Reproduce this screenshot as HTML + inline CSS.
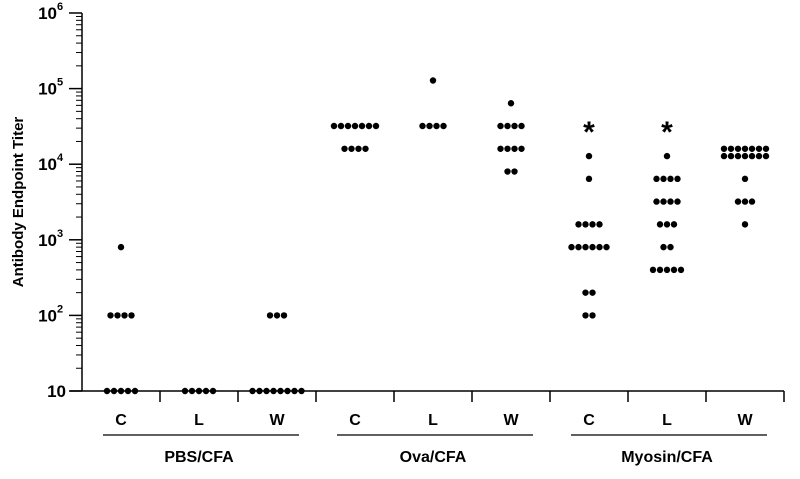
<!DOCTYPE html>
<html><head><meta charset="utf-8"><style>
body{margin:0;background:#fff}
svg text{font-family:"Liberation Sans",Arial,sans-serif;font-weight:bold;fill:#000}
</style></head><body>
<svg width="800" height="474" xmlns="http://www.w3.org/2000/svg">
<g id="axes"></g><g id="marks"></g>
</svg>
<script>
const categories=["C","L","W","C","L","W","C","L","W"];
const groups=["PBS/CFA","Ova/CFA","Myosin/CFA"];
const yTicks=[1,2,3,4,5,6];
const significant=[false,false,false,false,false,false,true,true,false];
// each category: list of [value,count]
const seriesPBS=[[[800,1],[100,4],[10,5]],[[10,5]],[[100,3],[10,8]]];
const seriesOva=[[[32000,7],[16000,4]],[[128000,1],[32000,4]],[[64000,1],[32000,4],[16000,4],[8000,2]]];
const seriesMyo=[[[12800,1],[6400,1],[1600,4],[800,6],[200,2],[100,2]],[[12800,1],[6400,4],[3200,4],[1600,3],[800,2],[400,5]],[[16000,7],[12800,7],[6400,1],[3200,3],[1600,1]]];
const allSeries=seriesPBS.concat(seriesOva,seriesMyo);
const NS="http://www.w3.org/2000/svg";
const x0=82,catW=78,yTop=13,yBot=391;
const yS=v=>yBot-(Math.log10(v)-1)*(yBot-yTop)/5;
const xS=i=>x0+catW*(i+0.5);
function mk(t,a,p,txt){const e=document.createElementNS(NS,t);for(const k in a)e.setAttribute(k,a[k]);if(txt!==undefined)e.textContent=txt;p.appendChild(e);return e;}
const ax=document.getElementById('axes'),mg=document.getElementById('marks');
let e=mk('line',{x1:x0,y1:yTop,x2:x0,y2:yBot,stroke:'#000','stroke-width':1.5},ax);

e=mk('line',{x1:70,y1:yBot,x2:x0+catW*9,y2:yBot,stroke:'#000','stroke-width':1.5},ax);

for(let d=1;d<=6;d++){const y=yS(Math.pow(10,d));mk('line',{x1:69,y1:y,x2:x0,y2:y,stroke:'#000','stroke-width':1.5},ax);
 if(d<6)for(let m=2;m<=9;m++){const yy=yS(m*Math.pow(10,d));mk('line',{x1:76,y1:yy,x2:x0,y2:yy,stroke:'#000','stroke-width':1},ax);}}
yTicks.forEach(d=>{const y=yS(Math.pow(10,d));const t=mk('text',{x:d==1?66:57,y:y+6,'text-anchor':'end','font-size':17},ax,"10");
 
 if(d>1){const s=mk('text',{x:57,y:y-3,'font-size':11},ax,String(d));}});
e=mk('text',{x:23,y:202,'text-anchor':'middle','font-size':15,transform:'rotate(-90 23 202)'},ax,"Antibody Endpoint Titer");

categories.forEach((c,i)=>{const xt=x0+catW*(i+1);mk('line',{x1:xt,y1:yBot,x2:xt,y2:402,stroke:'#000','stroke-width':1.5},ax);
 const t=mk('text',{x:xS(i),y:425,'text-anchor':'middle','font-size':16},ax,c);});
groups.forEach((g,k)=>{const cx=xS(3*k+1);const l=mk('line',{x1:cx-96,y1:435,x2:cx+100,y2:435,stroke:'#000','stroke-width':1.2},ax);
 
 const t=mk('text',{x:cx,y:462,'text-anchor':'middle','font-size':16},ax,g);});
allSeries.forEach((rows,i)=>{rows.forEach(([v,n])=>{for(let j=0;j<n;j++){const cx=xS(i)+(j-(n-1)/2)*7;
 const c=mk('circle',{cx:cx,cy:yS(v),r:3.2,fill:'#000'},mg);}});
 if(significant[i]){const t=mk('text',{x:xS(i),y:yS(32000)+16,'text-anchor':'middle','font-size':30},mg,"*");}});
</script>
</body></html>
